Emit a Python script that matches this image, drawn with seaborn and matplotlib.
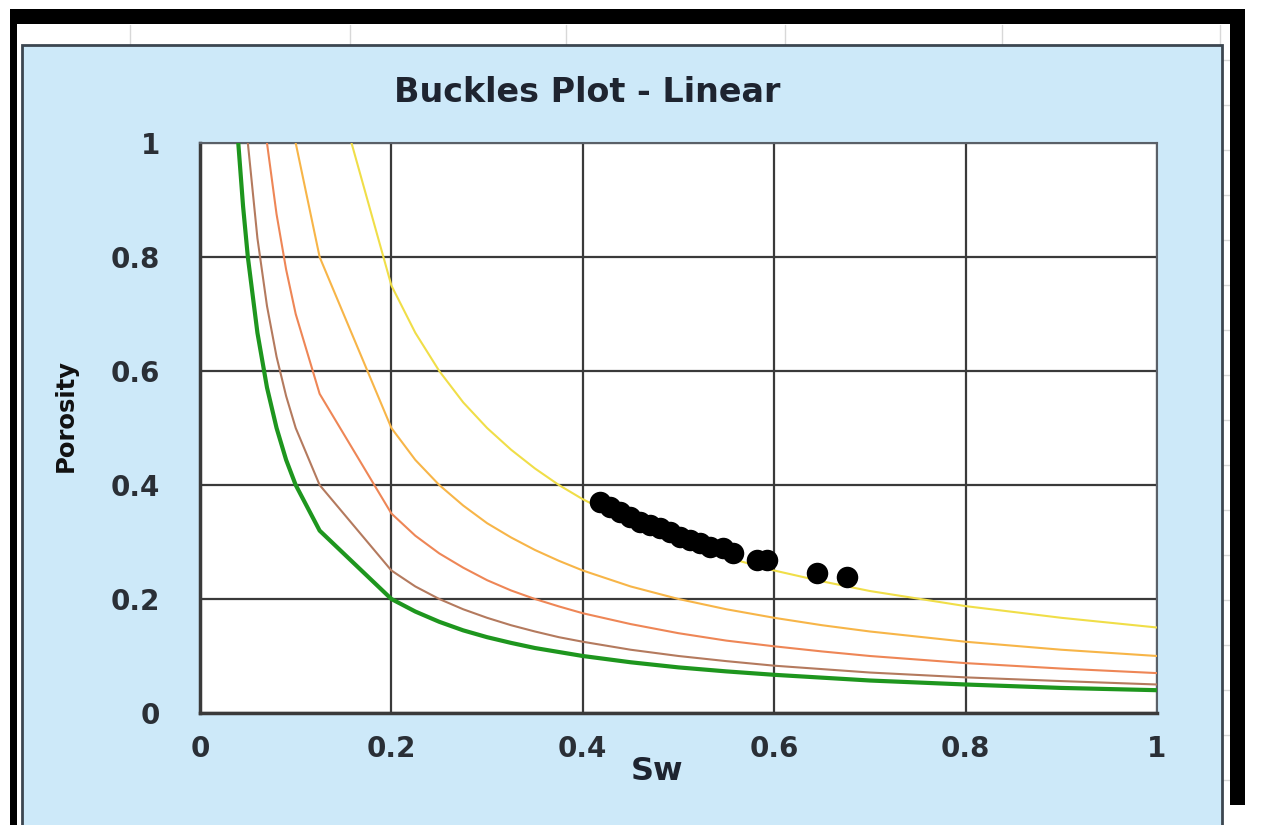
import matplotlib
matplotlib.use("Agg")
import matplotlib.pyplot as plt
import seaborn as sns
import pandas as pd
from matplotlib.patches import Rectangle
from matplotlib.lines import Line2D

# ---------------- data ----------------
sw_grid = [0.03, 0.035, 0.04, 0.045, 0.05, 0.06, 0.07, 0.08, 0.09, 0.10, 0.125,
           0.2, 0.225, 0.25, 0.275, 0.3, 0.325, 0.35, 0.375, 0.4, 0.45, 0.5,
           0.55, 0.6, 0.65, 0.7, 0.8, 0.9, 1.0]
phi_004 = [1.333, 1.143, 1.0, 0.889, 0.8, 0.667, 0.571, 0.5, 0.444, 0.4, 0.32,
           0.2, 0.178, 0.16, 0.145, 0.133, 0.123, 0.114, 0.107, 0.1, 0.089, 0.08,
           0.073, 0.067, 0.062, 0.057, 0.05, 0.044, 0.04]
phi_005 = [1.667, 1.429, 1.25, 1.111, 1.0, 0.833, 0.714, 0.625, 0.556, 0.5, 0.4,
           0.25, 0.222, 0.2, 0.182, 0.167, 0.154, 0.143, 0.133, 0.125, 0.111, 0.1,
           0.091, 0.083, 0.077, 0.071, 0.0625, 0.056, 0.05]
phi_007 = [2.333, 2.0, 1.75, 1.556, 1.4, 1.167, 1.0, 0.875, 0.778, 0.7, 0.56,
           0.35, 0.311, 0.28, 0.255, 0.233, 0.215, 0.2, 0.187, 0.175, 0.156, 0.14,
           0.127, 0.117, 0.108, 0.1, 0.0875, 0.078, 0.07]
phi_010 = [3.333, 2.857, 2.5, 2.222, 2.0, 1.667, 1.429, 1.25, 1.111, 1.0, 0.8,
           0.5, 0.444, 0.4, 0.364, 0.333, 0.308, 0.286, 0.267, 0.25, 0.222, 0.2,
           0.182, 0.167, 0.154, 0.143, 0.125, 0.111, 0.1]
phi_015 = [5.0, 4.286, 3.75, 3.333, 3.0, 2.5, 2.143, 1.875, 1.667, 1.5, 1.2,
           0.75, 0.667, 0.6, 0.545, 0.5, 0.462, 0.429, 0.4, 0.375, 0.333, 0.3,
           0.273, 0.25, 0.231, 0.214, 0.1875, 0.167, 0.15]

sample_sw = [0.418, 0.428, 0.439, 0.449, 0.460, 0.470, 0.481, 0.491, 0.502,
             0.512, 0.522, 0.533, 0.547, 0.557, 0.582, 0.592, 0.645, 0.676]
sample_phi = [0.370, 0.361, 0.353, 0.344, 0.335, 0.330, 0.325, 0.318, 0.309,
              0.304, 0.298, 0.291, 0.289, 0.281, 0.268, 0.268, 0.246, 0.239]

x_ticks = [0, 0.2, 0.4, 0.6, 0.8, 1.0]
x_tick_labels = ["0", "0.2", "0.4", "0.6", "0.8", "1"]
y_ticks = [0, 0.2, 0.4, 0.6, 0.8, 1.0]
y_tick_labels = ["0", "0.2", "0.4", "0.6", "0.8", "1"]

curves = [
    ("0.15", phi_015, "#F0DE48", 1.5),
    ("0.10", phi_010, "#F7B548", 1.5),
    ("0.07", phi_007, "#EE8656", 1.5),
    ("0.05", phi_005, "#B47A5E", 1.5),
    ("0.04", phi_004, "#1E961E", 3.0),
]

# ---------------- figure ----------------
sns.set_style("white")
plt.rcParams["font.family"] = ["DejaVu Sans"]

W, H = 1269, 825
fig = plt.figure(figsize=(W / 100, H / 100), dpi=100)
fig.patch.set_facecolor("white")

def px_rect(x0, y0, x1, y1, **kw):
    # pixel coords (top-left origin) -> figure coords
    return Rectangle((x0 / W, 1 - y1 / H), (x1 - x0) / W, (y1 - y0) / H,
                     transform=fig.transFigure, **kw)

# excel cell lines around the chart
for xc in [130, 350, 566, 785, 1002, 1220]:
    fig.add_artist(Line2D([xc / W, xc / W], [1 - 45 / H, 1 - 25 / H],
                          transform=fig.transFigure, color="#D8D8D8", lw=1,
                          zorder=-20))
for yc in range(60, 825, 45):
    fig.add_artist(Line2D([1222 / W, 1230 / W], [1 - yc / H, 1 - yc / H],
                          transform=fig.transFigure, color="#D8D8D8", lw=1,
                          zorder=-20))

# chart area
fig.add_artist(px_rect(22, 45, 1222, 826, facecolor="#CDE9F9",
                       edgecolor="#3C4650", lw=2, zorder=-10))
# black outer frame
fig.add_artist(px_rect(10, 9, 1244, 24, facecolor="black", edgecolor="none", zorder=-5))
fig.add_artist(px_rect(10, 9, 17, 826, facecolor="black", edgecolor="none", zorder=-5))
fig.add_artist(px_rect(1230, 9, 1245, 805, facecolor="black", edgecolor="none", zorder=-5))

ax = fig.add_axes([200 / W, 1 - 713 / H, (1157 - 200) / W, (713 - 143) / H])
ax.set_zorder(1)
ax.set_facecolor("white")

for name, phi, col, lw in curves:
    df = pd.DataFrame({"Sw": sw_grid, "Porosity": phi})
    sns.lineplot(data=df, x="Sw", y="Porosity", ax=ax, color=col, lw=lw,
                 sort=False, estimator=None, zorder=3)

dfs = pd.DataFrame({"Sw": sample_sw, "Porosity": sample_phi})
sns.scatterplot(data=dfs, x="Sw", y="Porosity", ax=ax, color="black", s=240,
                edgecolor="black", linewidth=0, zorder=4)

ax.set_xlim(0, 1)
ax.set_ylim(0, 1)
ax.set_xticks(x_ticks)
ax.set_xticklabels(x_tick_labels)
ax.set_yticks(y_ticks)
ax.set_yticklabels(y_tick_labels)
ax.grid(True, color="#3A3A3A", lw=1.6)
ax.set_axisbelow(True)
ax.set_xlabel("")
ax.set_ylabel("")
for side in ["top", "right"]:
    ax.spines[side].set_color("#5A6068")
    ax.spines[side].set_linewidth(1.5)
for side in ["left", "bottom"]:
    ax.spines[side].set_color("#3A3A3A")
    ax.spines[side].set_linewidth(2.5)
ax.tick_params(axis="both", direction="out", length=8, width=2, color="#3A3A3A",
               labelsize=20, labelcolor="#2A2F36")
ax.tick_params(axis="x", pad=8)
ax.tick_params(axis="y", pad=21)
for lab in ax.get_xticklabels() + ax.get_yticklabels():
    lab.set_fontweight("bold")

fig.text(587 / W, 1 - 92 / H, "Buckles Plot - Linear", ha="center", va="center",
         fontsize=24, fontweight="bold", color="#1E2430")
fig.text(66 / W, 1 - 415 / H, "Porosity", ha="center", va="center", rotation=90,
         fontsize=17.5, fontweight="bold", color="#111111")
fig.text(657 / W, 1 - 771 / H, "Sw", ha="center", va="center",
         fontsize=23, fontweight="bold", color="#1E2430")

fig.savefig("out.png", dpi=100, facecolor=fig.get_facecolor())
